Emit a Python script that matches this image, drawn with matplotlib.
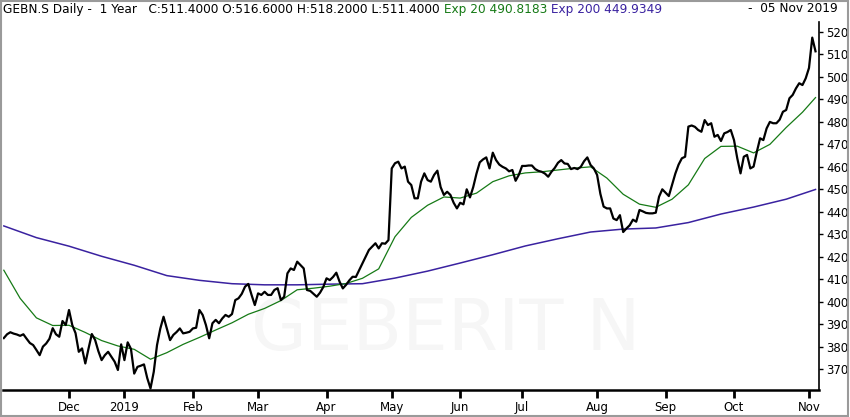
import numpy as np
import pandas as pd
import matplotlib
matplotlib.use('Agg')
import matplotlib.pyplot as plt
from matplotlib.patches import Rectangle

# daily closes
nov18 = [383.8, 385.5, 386.4, 385.8, 385.4, 384.8, 385.5, 383.5, 381.6, 380.7,
         378.5, 376.2, 380.0, 381.4, 383.5, 388.2, 385.5, 384.4, 391.4, 389.6]
dec18 = [396.3, 389.6, 386.0, 377.7, 379.2, 372.5, 379.2, 385.6, 383.0, 378.0,
         374.0, 376.2, 377.7, 375.5, 373.3, 369.6, 381.0]
jan19 = [374.0, 381.9, 379.0, 368.0, 371.0, 371.5, 372.1, 366.0, 361.4, 368.8,
         380.7, 388.0, 393.3, 388.1, 382.9, 385.2, 386.5, 388.1, 385.9, 386.2, 386.6]
feb19 = [388.1, 388.4, 396.3, 394.1, 389.6, 383.7, 390.4, 391.9, 390.4, 392.5,
         394.1, 393.3, 394.5, 400.7, 401.5, 403.5, 406.7, 407.9, 403.0, 398.5]
mar19 = [403.7, 403.0, 404.4, 403.0, 403.0, 405.2, 406.0, 400.7, 402.2, 412.6,
         414.8, 414.1, 417.8, 416.3, 414.8, 405.2, 404.8, 403.5, 402.2, 404.0, 406.5]
apr19 = [410.4, 409.6, 411.0, 412.9, 408.9, 405.9, 407.5, 409.5, 411.1, 411.0,
         414.0, 417.0, 420.0, 423.0, 424.5, 426.0, 423.7, 426.0, 425.8, 427.4]
may19 = [459.3, 461.6, 462.3, 459.3, 460.1, 453.4, 451.9, 446.0, 446.0, 453.4,
         457.1, 454.1, 453.4, 456.4, 458.3, 451.0, 447.5, 448.9, 447.5, 444.0, 441.5]
jun19 = [444.0, 443.3, 450.0, 446.4, 451.0, 457.0, 462.0, 463.3, 464.2, 459.3,
         466.3, 463.0, 461.0, 460.0, 459.3, 458.0, 458.6, 453.8, 456.5]
jul19 = [460.4, 460.4, 460.6, 460.6, 459.0, 458.2, 457.8, 457.0, 455.6, 457.8,
         459.5, 461.8, 463.0, 461.5, 461.3, 459.0, 459.5, 459.0, 460.0, 462.5,
         464.2, 460.8, 459.3]
aug19 = [456.4, 448.0, 442.3, 441.5, 441.5, 437.0, 436.3, 438.5, 431.0, 432.6,
         434.0, 436.5, 435.6, 440.8, 440.2, 439.5, 439.3, 439.3, 439.6, 446.7, 450.0]
sep19 = [448.5, 447.0, 452.0, 457.0, 461.0, 463.8, 464.5, 477.9, 478.4, 477.8,
         476.4, 475.6, 480.8, 478.6, 479.4, 473.4, 474.2, 471.5, 474.9, 475.5, 476.4]
oct19 = [471.9, 463.8, 457.1, 464.5, 465.3, 459.3, 460.1, 466.7, 472.7, 471.9,
         477.1, 480.0, 479.4, 479.4, 481.0, 484.5, 485.3, 490.5, 492.0, 494.9,
         497.2, 496.4, 499.4]
nov19 = [504.0, 517.5, 511.4]

close = np.array(nov18 + dec18 + jan19 + feb19 + mar19 + apr19 + may19 + jun19
                 + jul19 + aug19 + sep19 + oct19 + nov19)

# Exp 20 read every 5 trading days (+ last day), Exp 200 every 10 (+ last day)
ema20 = [414.0, 401.5, 392.8, 389.4, 389.5, 386.3, 382.7, 380.3, 378.8, 374.4,
         377.3, 381.0, 384.1, 387.4, 390.6, 394.4, 397.0, 400.5, 405.3, 406.0,
         406.9, 408.1, 410.4, 414.6, 428.9, 437.5, 442.9, 446.6, 446.1, 448.3,
         453.4, 456.0, 457.3, 457.8, 458.6, 459.4, 460.0, 455.0, 447.8, 443.4,
         442.0, 445.6, 452.0, 463.7, 469.1, 469.2, 466.2, 470.0, 477.5, 484.3,
         490.8183]
ema200 = [433.7, 428.5, 424.7, 420.2, 416.2, 411.6, 409.5, 408.0, 407.5, 407.5,
          407.8, 408.0, 410.5, 413.6, 417.2, 420.9, 424.8, 428.0, 431.0, 432.3,
          432.8, 435.2, 439.0, 442.1, 445.6, 449.9349]

holidays = ['2018-12-24', '2018-12-25', '2018-12-26', '2018-12-31', '2019-01-01',
            '2019-01-02', '2019-04-19', '2019-04-22', '2019-05-01', '2019-05-30',
            '2019-06-10', '2019-08-01']
dates = pd.bdate_range('2018-11-05', '2019-11-05')
dates = dates[~dates.isin(pd.to_datetime(holidays))]

header = 'GEBN.S Daily -  1 Year   C:511.4000 O:516.6000 H:518.2000 L:511.4000'
exp20_txt = ' Exp 20 490.8183'
exp200_txt = ' Exp 200 449.9349'
date_txt = '-  05 Nov 2019'

green = '#167a16'
purple = '#3a22a0'

n = len(dates)
x = np.arange(n)
x20 = np.append(np.arange(0, n, 5), n - 1)
x200 = np.append(np.arange(0, n, 10), n - 1)

fig = plt.figure(figsize=(8.5, 4.17), dpi=100)
ax = fig.add_axes([3 / 850, 27 / 417, 816 / 850, 368 / 417])

ax.text(0.542, 0.163, 'GEBERIT N', transform=ax.transAxes, fontsize=52,
        color='#f6f6f6', ha='center', va='center', zorder=0)

ax.plot(x200, ema200, color=purple, lw=1.1, zorder=2)
ax.plot(x20, ema20, color=green, lw=0.9, zorder=2)
ax.plot(x, close, color='black', lw=1.6, zorder=3)

ax.set_xlim(-0.25, 250.07)
ax.set_ylim(360.7, 524.45)

month_start = [i for i in range(1, n) if dates[i].month != dates[i - 1].month]
month_lbl = ['2019' if dates[i].month == 1 else dates[i].strftime('%b') for i in month_start]
ax.set_xticks(month_start)
ax.set_xticklabels(month_lbl, fontsize=8.5)
ax.set_yticks(np.arange(370, 521, 10))
ax.yaxis.tick_right()
ax.tick_params(axis='y', labelsize=8.5, length=3, width=1, pad=2)
ax.tick_params(axis='x', length=6, width=2, pad=2)

for s in ['top', 'left']:
    ax.spines[s].set_visible(False)
ax.spines['bottom'].set_linewidth(1.8)
ax.spines['right'].set_linewidth(1.2)

t1 = fig.text(3 / 850, 1 - 9 / 417, header, fontsize=8.7, va='center')
t2 = plt.annotate(exp20_txt, xy=(1, 0), xycoords=t1, va='bottom', fontsize=8.7, color=green)
plt.annotate(exp200_txt, xy=(1, 0), xycoords=t2, va='bottom', fontsize=8.7, color=purple)
fig.text(838 / 850, 1 - 9 / 417, date_txt, fontsize=8.7, va='center', ha='right')

fig.patches.append(Rectangle((0.001, 0.002), 0.997, 0.995, transform=fig.transFigure,
                             fill=False, edgecolor='#9a9a9a', lw=1.5))

fig.savefig('out.png', dpi=100)
